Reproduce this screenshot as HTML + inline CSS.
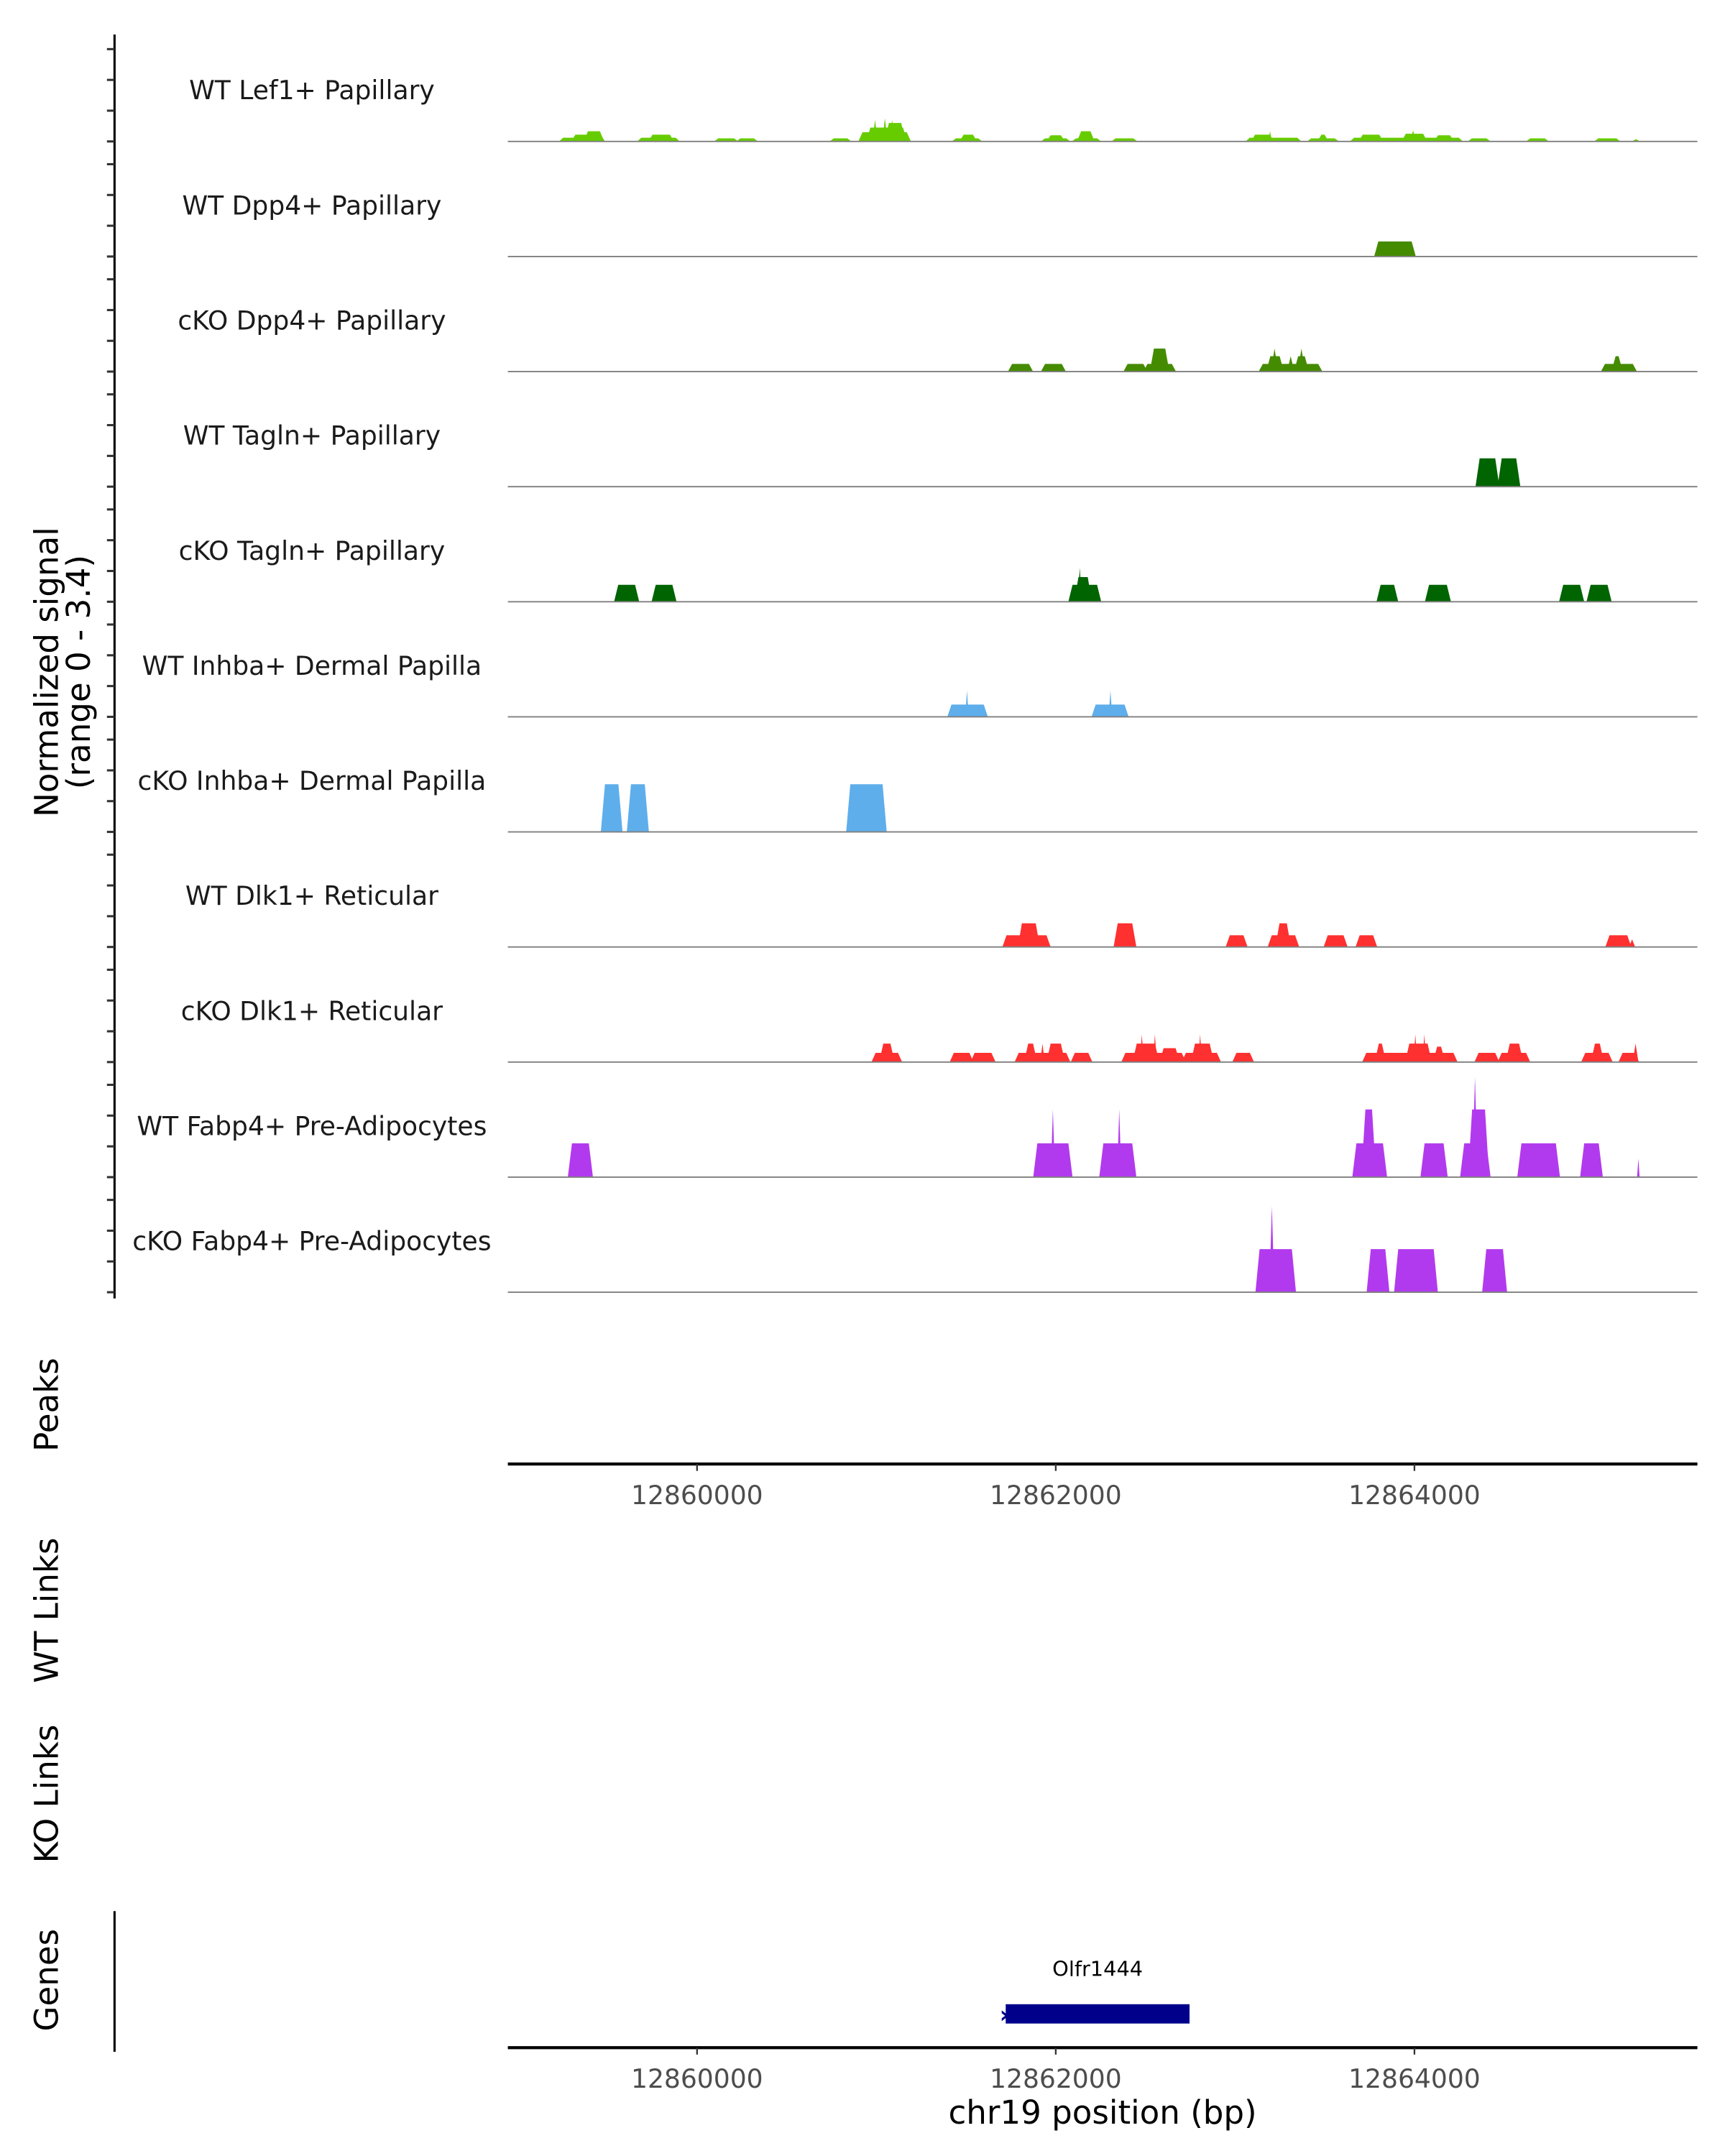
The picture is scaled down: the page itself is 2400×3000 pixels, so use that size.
<!DOCTYPE html>
<html><head><meta charset="utf-8"><style>
html,body{margin:0;padding:0;background:#fff;}
svg{display:block;}
text{font-family:"DejaVu Sans","Liberation Sans",sans-serif;}
</style></head><body>
<svg id="chart" width="2400" height="3000" viewBox="0 0 1250 1562.5" preserveAspectRatio="none" xmlns="http://www.w3.org/2000/svg">
<g id="g-axes"></g>
<g id="g-tracks"></g>
</svg>
<script>
// ---- data (bp start, bp end, normalized signal) ----
const trackNames = ["WT Lef1+ Papillary","WT Dpp4+ Papillary","cKO Dpp4+ Papillary","WT Tagln+ Papillary","cKO Tagln+ Papillary","WT Inhba+ Dermal Papilla","cKO Inhba+ Dermal Papilla","WT Dlk1+ Reticular","cKO Dlk1+ Reticular","WT Fabp4+ Pre-Adipocytes","cKO Fabp4+ Pre-Adipocytes"];
const trackColors = ["#66cc00","#458b00","#458b00","#006400","#006400","#5eaeec","#5eaeec","#ff3030","#ff3030","#b23aee","#b23aee"];
const lef1WT = [[12859242,12859475,0.12],[12859310,12859475,0.22],[12859380,12859470,0.33],[12859678,12859892,0.12],[12859740,12859860,0.22],[12860107,12860218,0.1],[12860230,12860328,0.1],[12860751,12860849,0.1],[12860911,12861181,0.3],[12860955,12861160,0.45],[12861058,12861150,0.6],[12860985,12861000,0.7],[12861040,12861055,0.75],[12861080,12861095,0.7],[12861432,12861579,0.1],[12861475,12861550,0.22],[12861929,12862070,0.1],[12861960,12862040,0.2],[12862101,12862242,0.1],[12862130,12862205,0.33],[12862322,12862444,0.1],[12863070,12863358,0.12],[12863100,12863205,0.22],[12863190,12863200,0.33],[12863413,12863567,0.1],[12863470,12863510,0.22],[12863652,12864259,0.12],[12863700,12863815,0.22],[12863940,12864060,0.25],[12863985,12864000,0.36],[12864120,12864210,0.2],[12864309,12864413,0.1],[12864634,12864738,0.1],[12865014,12865137,0.1],[12865223,12865247,0.07]];
const dpp4WT = [[12863787,12863996,0.49]];
const dpp4KO = [[12861745,12861862,0.25],[12861929,12862045,0.25],[12862389,12862500,0.25],[12862500,12862659,0.25],[12862536,12862622,0.75],[12863143,12863475,0.25],[12863185,12863260,0.5],[12863210,12863230,0.75],[12863300,12863320,0.5],[12863340,12863400,0.5],[12863360,12863380,0.75],[12865051,12865229,0.25],[12865110,12865150,0.5]];
const taglnWT = [[12864352,12864462,0.92],[12864475,12864579,0.92]];
const taglnKO = [[12859549,12859666,0.55],[12859758,12859874,0.55],[12862082,12862242,0.55],[12862115,12862190,0.8],[12862128,12862140,1.1],[12863800,12863898,0.55],[12864070,12864192,0.55],[12864818,12864935,0.55],[12864971,12865088,0.55]];
const inhbaWT = [[12861407,12861610,0.4],[12861500,12861510,0.85],[12862211,12862395,0.4],[12862300,12862310,0.85]];
const inhbaKO = [[12859475,12859573,1.55],[12859620,12859720,1.55],[12860843,12861046,1.55]];
const dlk1WT = [[12861714,12861960,0.38],[12861800,12861900,0.77],[12861805,12861815,0.77],[12862334,12862438,0.77],[12862959,12863058,0.38],[12863193,12863346,0.38],[12863236,12863300,0.77],[12863505,12863616,0.38],[12863683,12863781,0.38],[12865076,12865198,0.38],[12865205,12865222,0.25]];
const dlk1KO = [[12860984,12861132,0.3],[12861027,12861090,0.6],[12861420,12861530,0.3],[12861536,12861653,0.3],[12861782,12862070,0.3],[12861835,12861885,0.6],[12861920,12861932,0.6],[12861960,12862040,0.6],[12862095,12862193,0.3],[12862377,12862714,0.3],[12862440,12862565,0.6],[12862475,12862485,0.9],[12862548,12862558,0.9],[12862590,12862680,0.45],[12862714,12862910,0.3],[12862765,12862870,0.6],[12862800,12862810,0.9],[12862996,12863094,0.3],[12863720,12864229,0.3],[12863790,12863830,0.6],[12863960,12864085,0.6],[12864000,12864010,0.9],[12864050,12864060,0.9],[12864115,12864160,0.5],[12864346,12864462,0.3],[12864475,12864634,0.3],[12864520,12864595,0.6],[12864941,12865094,0.3],[12864995,12865045,0.6],[12865149,12865241,0.3],[12865225,12865241,0.6]];
const fabp4WT = [[12859291,12859408,1.1],[12861886,12862082,1.1],[12861978,12861990,2.2],[12862254,12862438,1.1],[12862348,12862360,2.2],[12863665,12863836,1.1],[12863715,12863775,2.2],[12864045,12864174,1.1],[12864266,12864413,1.1],[12864310,12864405,2.2],[12864330,12864345,3.25],[12864585,12864800,1.1],[12864935,12865039,1.1],[12865245,12865252,0.6]];
const fabp4KO = [[12863125,12863328,1.4],[12863198,12863212,2.8],[12863745,12863849,1.4],[12863898,12864119,1.4],[12864389,12864505,1.4]];
const allTracks = [lef1WT,dpp4WT,dpp4KO,taglnWT,taglnKO,inhbaWT,inhbaKO,dlk1WT,dlk1KO,fabp4WT,fabp4KO];
const xTicks = [12860000,12862000,12864000];
const yTickVals = [0,1,2,3];
const geneStart = 12861721, geneEnd = 12862746;

// ---- scales ----
const X0 = 368, X1 = 1229, BP0 = 12858945, BP1 = 12865570;
function xs(bp){ return X0 + (bp-BP0)/(BP1-BP0)*(X1-X0); }
const firstBase = 102.5, trackStep = 83.4, pxPerUnit = 22.3;
function base(i){ return firstBase + i*trackStep; }
function ys(i,v){ return base(i) - v*pxPerUnit; }

const NS="http://www.w3.org/2000/svg";
const gA=document.getElementById('g-axes'), gT=document.getElementById('g-tracks');
function mk(tag,attrs,parent){const e=document.createElementNS(NS,tag);for(const k in attrs)e.setAttribute(k,attrs[k]);parent.appendChild(e);return e;}

// left signal axis
let el=mk('line',{x1:83,x2:83,y1:25,y2:941,stroke:'#000','stroke-width':1.6},gA);


for(let i=0;i<allTracks.length;i++){
  yTickVals.forEach(v=>{
    const t=mk('line',{x1:77.5,x2:83,y1:ys(i,v),y2:ys(i,v),stroke:'#333','stroke-width':1.6},gA);
    
    
  });
}
let yt=mk('text',{transform:'translate(42,487) rotate(-90)','text-anchor':'middle','font-size':23.5,fill:'#000'},gA);


yt.textContent='Normalized signal';
let yt2=mk('text',{transform:'translate(65,487) rotate(-90)','text-anchor':'middle','font-size':23.5,fill:'#000'},gA);


yt2.textContent='(range 0 - 3.4)';

// tracks
allTracks.forEach((segs,i)=>{
  const g=mk('g',{},gT);
  
  
  const lab=mk('text',{x:226,y:base(i)-30.5,'text-anchor':'middle','font-size':18.8,fill:'#1a1a1a'},g);
  
  
  lab.textContent=trackNames[i];
  segs.forEach(s=>{
    const a=xs(s[0]),b=xs(s[1]),y=ys(i,s[2]),y0=base(i);
    const sl=Math.min(1.5,(b-a)/2);
    const p=mk('polygon',{points:`${a-sl},${y0} ${a+sl},${y} ${b-sl},${y} ${b+sl},${y0}`,fill:trackColors[i]},g);
    
    
  });
  const bl=mk('line',{x1:X0,x2:1230,y1:base(i),y2:base(i),stroke:'#7f7f7f','stroke-width':1},g);
  
  
});

// side labels
[['Peaks',1018,'peaks-label'],['WT Links',1167,'wt-links-label'],['KO Links',1300,'ko-links-label'],['Genes',1435,'genes-label']].forEach(d=>{
  const t=mk('text',{transform:`translate(42,${d[1]}) rotate(-90)`,'text-anchor':'middle','font-size':23.5,fill:'#000'},gA);
  
  
  t.textContent=d[0];
});

// x axes
function xAxis(y,name){
  const l=mk('line',{x1:X0,x2:1230,y1:y,y2:y,stroke:'#000','stroke-width':2.2},gA);
  
  
  xTicks.forEach(v=>{
    const tk=mk('line',{x1:xs(v),x2:xs(v),y1:y,y2:y+5,stroke:'#333','stroke-width':1.2},gA);
    
    
    const tl=mk('text',{x:xs(v),y:y+29,'text-anchor':'middle','font-size':18.8,fill:'#4d4d4d'},gA);
    
    
    tl.textContent=v;
  });
}
xAxis(1061,'peaks-x-axis');
xAxis(1484,'genes-x-axis');
let xt=mk('text',{x:799,y:1539,'text-anchor':'middle','font-size':23.5,fill:'#000'},gA);


xt.textContent='chr19 position (bp)';

// genes panel
let ga=mk('line',{x1:83,x2:83,y1:1385,y2:1487,stroke:'#000','stroke-width':1.6},gA);


let gb=mk('rect',{x:xs(geneStart),y:1452.5,width:xs(geneEnd)-xs(geneStart),height:14,fill:'#00008b'},gA);


let gx=mk('text',{x:xs(geneStart)-1,y:1466,'text-anchor':'middle','font-size':17,fill:'#00008b','font-weight':'bold'},gA);


gx.textContent='›';
let gl=mk('text',{x:(xs(geneStart)+xs(geneEnd))/2,y:1432,'text-anchor':'middle','font-size':15,fill:'#000'},gA);


gl.textContent='Olfr1444';
</script>
</body></html>
